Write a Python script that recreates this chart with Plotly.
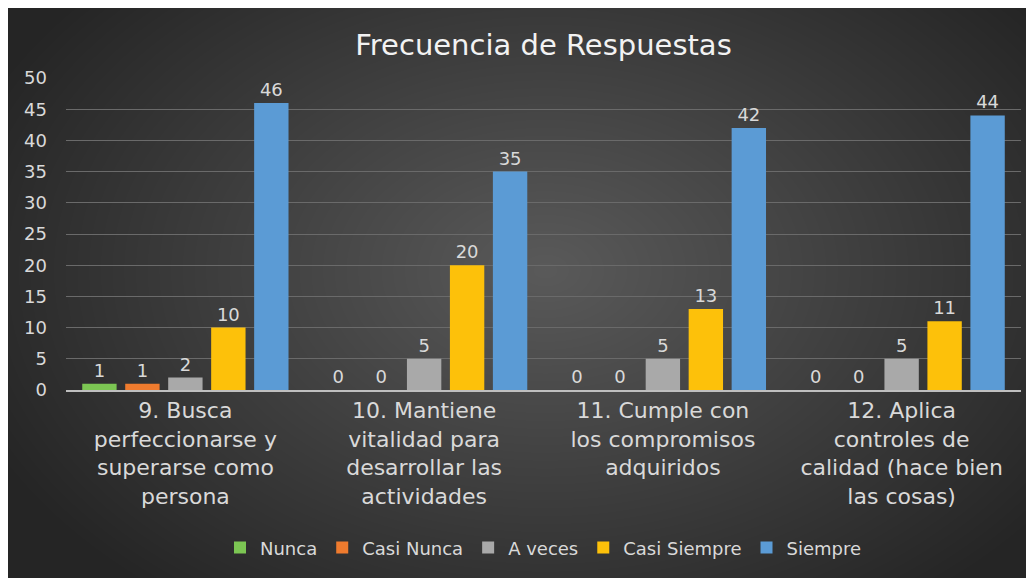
import base64, struct, zlib
import numpy as np
import plotly.graph_objects as go

# ---- data ----
categories = [
    "9. Busca<br>perfeccionarse y<br>superarse como<br>persona",
    "10. Mantiene<br>vitalidad para<br>desarrollar las<br>actividades",
    "11. Cumple con<br>los compromisos<br>adquiridos",
    "12. Aplica<br>controles de<br>calidad (hace bien<br>las cosas)",
]
series_names = ["Nunca", "Casi Nunca", "A veces", "Casi Siempre", "Siempre"]
nunca = [1, 0, 0, 0]
casi_nunca = [1, 0, 0, 0]
a_veces = [2, 5, 5, 5]
casi_siempre = [10, 20, 13, 11]
siempre = [46, 35, 42, 44]
y_ticks = [0, 5, 10, 15, 20, 25, 30, 35, 40, 45, 50]

series_values = [nunca, casi_nunca, a_veces, casi_siempre, siempre]
colors = ["#7cc653", "#ef7b2e", "#a9a9a9", "#fdc10a", "#5b9bd5"]

# page has an 8px body margin; figure fills the rest of the window
W, H = 1026, 570
ML, MR, MT, MB = 58, 13, 70, 188

# ---- radial dark background as PNG ----
def make_bg(w, h):
    xs = np.arange(w)[None, :]
    ys = np.arange(h)[:, None]
    r = np.sqrt(((xs - 537) / 620.0) ** 2 + ((ys - 262) / 420.0) ** 2)
    r = np.clip(r, 0, 1)
    c = (0x5a + (0x25 - 0x5a) * r).astype(np.uint8)
    img = np.stack([c, c, c], axis=-1)
    raw = b"".join(b"\x00" + img[i].tobytes() for i in range(h))
    def chunk(t, d):
        return struct.pack(">I", len(d)) + t + d + struct.pack(">I", zlib.crc32(t + d) & 0xffffffff)
    png = b"\x89PNG\r\n\x1a\n" + chunk(b"IHDR", struct.pack(">IIBBBBB", w, h, 8, 2, 0, 0, 0)) \
        + chunk(b"IDAT", zlib.compress(raw, 9)) + chunk(b"IEND", b"")
    return "data:image/png;base64," + base64.b64encode(png).decode()

FONT = "DejaVu Sans"
TXT = "#d9d9d9"

fig = go.Figure()
for name, vals, col in zip(series_names, series_values, colors):
    fig.add_trace(go.Bar(
        name=name, x=categories, y=vals,
        marker=dict(color=col, line=dict(width=0)),
        text=[str(v) for v in vals], textposition="outside",
        textfont=dict(family=FONT, size=18, color=TXT),
        cliponaxis=False,
    ))

pw = W - ML - MR
ph = H - MT - MB
fig.add_layout_image(dict(
    source=make_bg(W, H), xref="paper", yref="paper",
    x=-ML / pw, y=1 + MT / ph, sizex=W / pw, sizey=H / ph,
    xanchor="left", yanchor="top", sizing="stretch", layer="below",
))

fig.update_layout(
    width=W, height=H,
    margin=dict(l=ML, r=MR, t=MT, b=MB),
    paper_bgcolor="#333333", plot_bgcolor="rgba(0,0,0,0)",
    barmode="group", bargap=0.1, bargroupgap=0.2,
    title=dict(text="Frecuencia de Respuestas", x=0.5, xref="paper",
               y=1 - 37 / H, yref="container", yanchor="middle",
               font=dict(family=FONT, size=29, color="#f2f2f2")),
    font=dict(family=FONT, color=TXT),
    showlegend=True,
    legend=dict(orientation="h", x=0.5, xanchor="center", y=-0.506, yanchor="middle",
                font=dict(family=FONT, size=18, color=TXT),
                itemwidth=30, traceorder="normal", bgcolor="rgba(0,0,0,0)"),
    xaxis=dict(showline=True, linecolor="#bfbfbf", linewidth=1.5,
               tickfont=dict(family=FONT, size=22, color=TXT), ticks=""),
    yaxis=dict(range=[0, 50], tickvals=y_ticks, showgrid=True, gridcolor="#6a6a6a",
               gridwidth=1, zeroline=False, showline=False, ticks="",
               ticklabelstandoff=18,
               tickfont=dict(family=FONT, size=18, color=TXT)),
)

fig.write_html("out.html")
